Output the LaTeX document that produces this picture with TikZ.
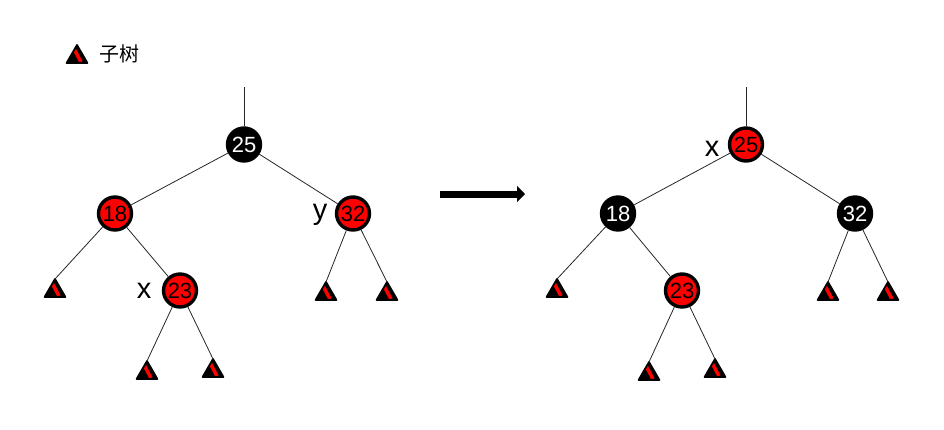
\documentclass[tikz,border=0pt]{standalone}
\usepackage{fontspec}
\setmainfont{Liberation Sans}
\newfontfamily\cjk{Noto Sans CJK SC}
\usetikzlibrary{shapes.geometric,arrows.meta}
\tikzset{
  rbnode/.style={circle,draw=black,line width=3.4pt,minimum size=33pt,inner sep=0pt,font=\fontsize{22}{22}\selectfont},
  rednode/.style={rbnode,fill=red,text=black},
  blacknode/.style={rbnode,fill=black,text=white},
  subtree/.style={regular polygon,regular polygon sides=3,minimum size=24pt,inner sep=0pt,outer sep=0pt,
    draw=black,fill=black,line width=1.8pt,line join=round,
    path picture={\draw[red,line width=3.5pt] ([shift={(-4,-7)}]path picture bounding box.center)--([shift={(4,8)}]path picture bounding box.center);}},
  letter/.style={font=\fontsize{29}{29}\selectfont,inner sep=0pt},
  link/.style={black!85,line width=.8pt}
}
\begin{document}
\begin{tikzpicture}[x=1pt,y=-1pt]
\useasboundingbox (0,0) rectangle (944,429);
% legend
\node[subtree] (legend) at (77,57) {};
\node[font=\cjk\fontsize{20}{20}\selectfont,inner sep=0pt] (legendtext) at (119,54) {子树};
% left tree
\coordinate (ltop) at (244,87);
\node[blacknode] (la) at (244,144.5) {25};
\node[rednode] (lb) at (115,213.5) {18};
\node[rednode] (lc) at (353,213.5) {32};
\node[rednode] (ld) at (180,290.5) {23};
\node[letter] (lx) at (144,291) {x};
\node[letter] (ly) at (320,215) {y};
\foreach \name/\x/\y in {l1/55/291,l2/326/294,l3/387/294,l4/147/373,l5/213/371}
\node[subtree] (\name) at (\x,\y) {};
\draw[link] (ltop)--(la);
\draw[link] (la)--(lb);
\draw[link] (la)--(lc);
\draw[link] (lb)--(ld);
\draw[link] (lb)--(l1.corner 1);
\draw[link] (lc)--(l2.corner 1);
\draw[link] (lc)--(l3.corner 1);
\draw[link] (ld)--(l4.corner 1);
\draw[link] (ld)--(l5.corner 1);
% arrow
\coordinate (arrowa) at (440,194);
\coordinate (arrowb) at (525,194);
\draw[line width=7pt,-{Triangle[length=8pt,width=16pt]}] (arrowa)--(arrowb);
% right tree
\coordinate (rtop) at (746,87);
\node[rednode] (ra) at (746,144.5) {25};
\node[blacknode] (rb) at (618,213.5) {18};
\node[blacknode] (rc) at (855,213.5) {32};
\node[rednode] (rd) at (682,290.5) {23};
\node[letter] (rx) at (712,149) {x};
\foreach \name/\x/\y in {r1/557/291,r2/828/294,r3/888/294,r4/649/374,r5/715/371}
\node[subtree] (\name) at (\x,\y) {};
\draw[link] (rtop)--(ra);
\draw[link] (ra)--(rb);
\draw[link] (ra)--(rc);
\draw[link] (rb)--(rd);
\draw[link] (rb)--(r1.corner 1);
\draw[link] (rc)--(r2.corner 1);
\draw[link] (rc)--(r3.corner 1);
\draw[link] (rd)--(r4.corner 1);
\draw[link] (rd)--(r5.corner 1);
\end{tikzpicture}
\end{document}
